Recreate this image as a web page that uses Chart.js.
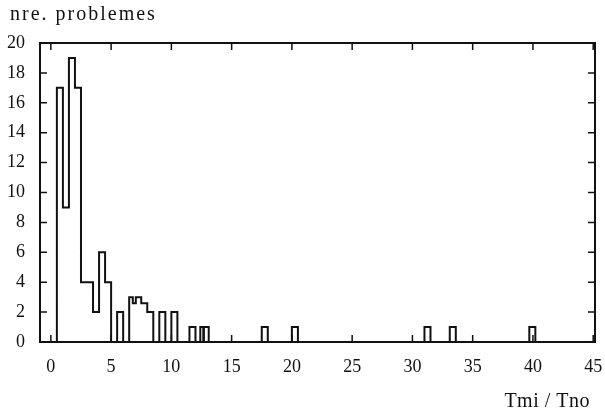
<!DOCTYPE html>
<html>
<head>
<meta charset="utf-8">
<script src="https://cdn.jsdelivr.net/npm/chart.js@4.4.0/dist/chart.umd.min.js"></script>
<style>
  html, body { margin: 0; padding: 0; background: #fff; }
</style>
</head>
<body>
<canvas id="histo" width="605" height="416"></canvas>
<script>
// left edge of each step and the count held until the next edge
const binEdges = [0.5, 1.0, 1.5, 2.0, 2.5, 3.5, 4.0, 4.5, 5.0, 5.5, 6.0, 6.5, 6.8, 7.05, 7.5, 8.0, 8.5,
  9.0, 9.5, 10.0, 10.5, 11.5, 12.0, 12.4, 12.65, 12.7, 13.1, 17.5, 18.0, 20.0, 20.5,
  31.0, 31.5, 33.1, 33.6, 39.7, 40.2];
const counts = [17, 9, 19, 17, 4, 2, 6, 4, 0, 2, 0, 3, 2.6, 3, 2.6, 2, 0,
  2, 0, 2, 0, 1, 0, 1, 0, 1, 0, 1, 0, 1, 0,
  1, 0, 1, 0, 1, 0];

const yLabel = 'nre. problemes';
const xLabel = 'Tmi / Tno';
const font = { family: 'Liberation Serif', size: 18 };
const ink = '#111';

const points = [{ x: binEdges[0], y: 0 }].concat(
  binEdges.map((e, i) => ({ x: e, y: counts[i] }))
);

// box round the plot, ticks pointing inwards, axis names
const framePlugin = {
  id: 'frame',
  afterDraw(chart) {
    const ctx = chart.ctx;
    const a = chart.chartArea;
    const xs = chart.scales.x;
    const ys = chart.scales.y;
    const len = 7;
    ctx.save();
    ctx.strokeStyle = ink;
    ctx.lineWidth = 2;
    ctx.strokeRect(a.left, a.top, a.right - a.left, a.bottom - a.top);
    ctx.lineWidth = 1.5;
    ctx.beginPath();
    xs.ticks.forEach(t => {
      const px = xs.getPixelForValue(t.value);
      ctx.moveTo(px, a.bottom); ctx.lineTo(px, a.bottom - len);
      ctx.moveTo(px, a.top); ctx.lineTo(px, a.top + len);
    });
    ys.ticks.forEach(t => {
      const py = ys.getPixelForValue(t.value);
      ctx.moveTo(a.left, py); ctx.lineTo(a.left + len, py);
      ctx.moveTo(a.right, py); ctx.lineTo(a.right - len, py);
    });
    ctx.stroke();

    ctx.fillStyle = ink;
    ctx.font = '20px "Liberation Serif"';
    ctx.textBaseline = 'middle';
    ctx.textAlign = 'left';
    ctx.letterSpacing = '2px';
    ctx.fillText(yLabel, 10, 15);
    ctx.letterSpacing = '0.5px';
    ctx.textAlign = 'right';
    ctx.fillText(xLabel, 590, 402);
    ctx.restore();
  }
};

new Chart(document.getElementById('histo').getContext('2d'), {
  type: 'line',
  data: {
    datasets: [{
      data: points,
      stepped: 'before',
      borderColor: ink,
      borderWidth: 2,
      pointRadius: 0,
      fill: false
    }]
  },
  options: {
    responsive: false,
    animation: false,
    layout: { padding: { top: 43, right: 10, bottom: 0, left: 0 } },
    plugins: { legend: { display: false }, tooltip: { enabled: false } },
    scales: {
      x: {
        type: 'linear',
        min: -0.9,
        max: 45.15,
        border: { display: false },
        grid: { display: false, drawTicks: false },
        ticks: { stepSize: 5, includeBounds: false, padding: 14, color: ink, font: font, maxRotation: 0 },
        afterFit(scale) {
          scale.height = 74;
          scale.paddingLeft = 0;
          scale.paddingRight = 0;
        }
      },
      y: {
        min: 0,
        max: 20,
        border: { display: false },
        grid: { display: false, drawTicks: false },
        ticks: { stepSize: 2, padding: 15, color: ink, font: font },
        afterFit(scale) {
          scale.width = 40;
          scale.paddingTop = 0;
          scale.paddingBottom = 0;
        }
      }
    }
  },
  plugins: [framePlugin]
});
</script>
</body>
</html>
